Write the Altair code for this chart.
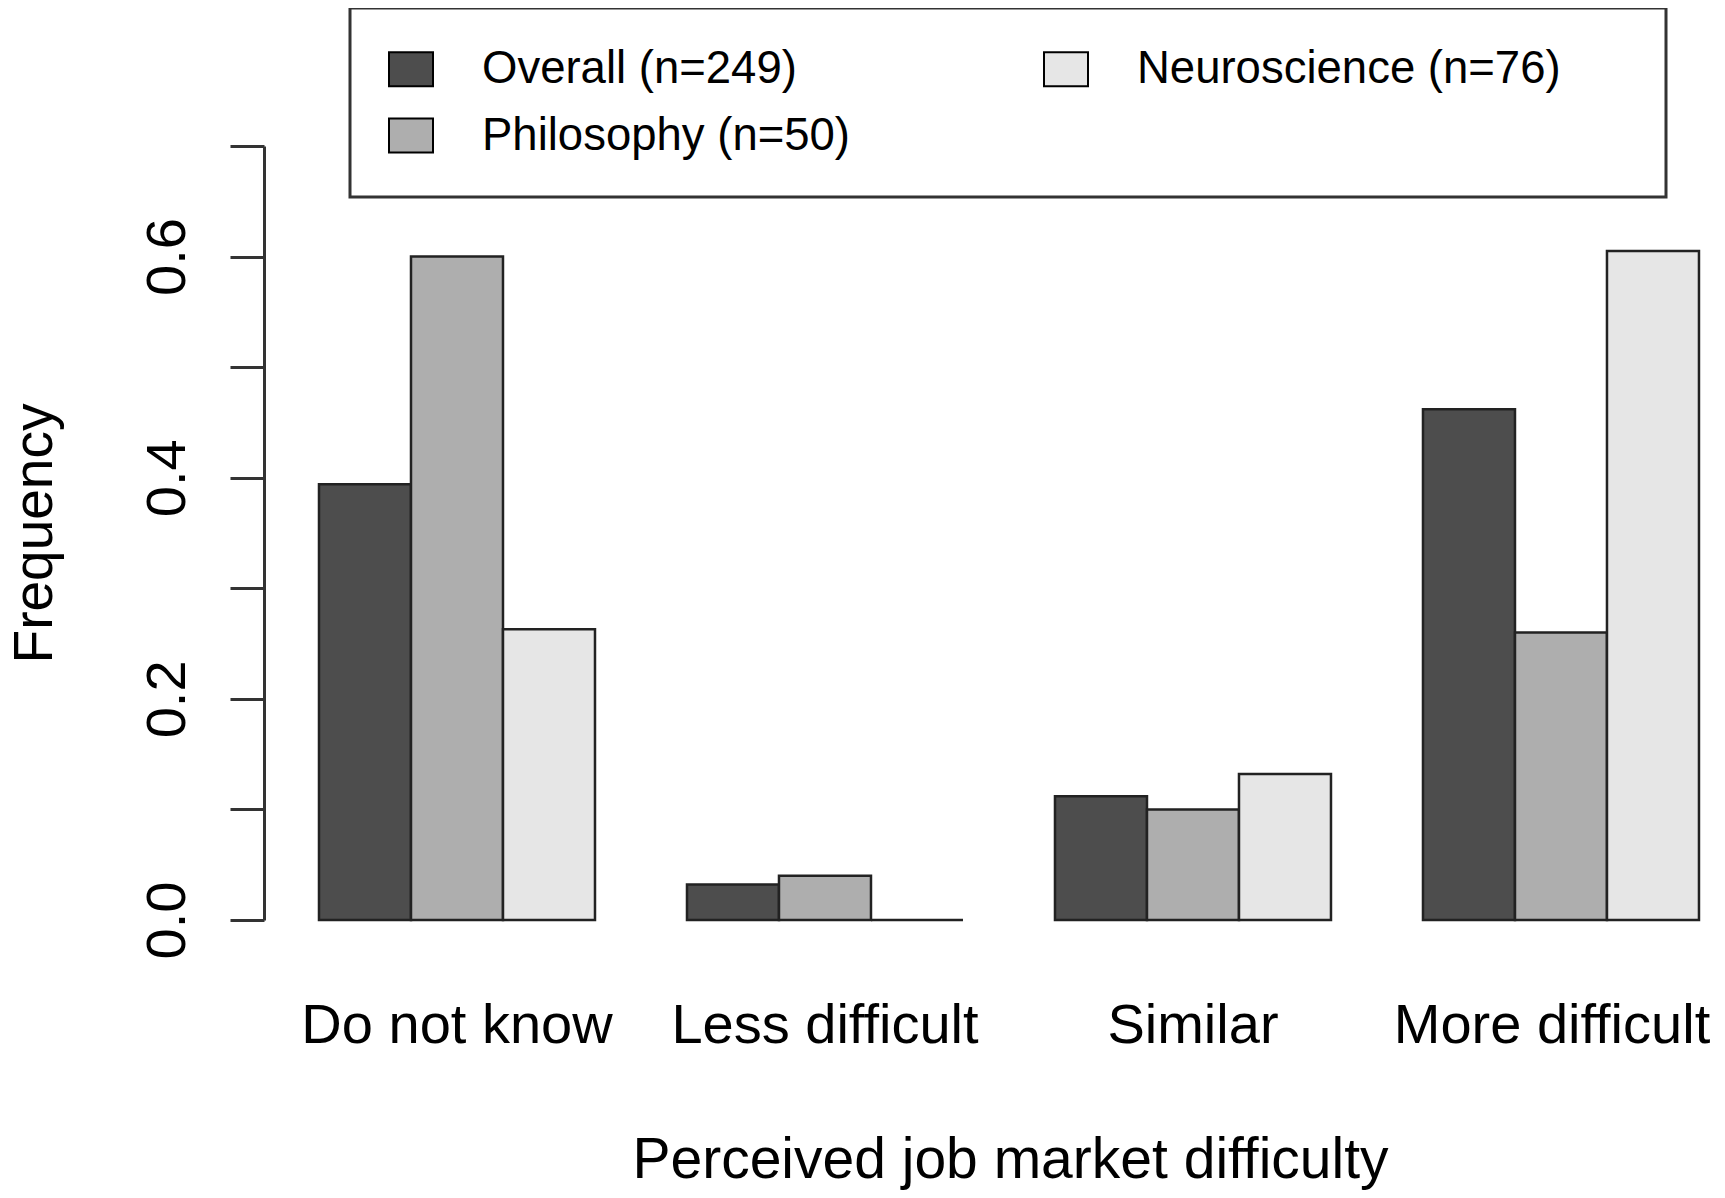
import altair as alt
import pandas as pd

categories = ["Do not know", "Less difficult", "Similar", "More difficult"]
groups = ["Overall (n=249)", "Philosophy (n=50)", "Neuroscience (n=76)"]
overall = [0.394, 0.032, 0.112, 0.462]
philosophy = [0.600, 0.040, 0.100, 0.260]
neuroscience = [0.263, 0.000, 0.132, 0.605]
colors = ["#4D4D4D", "#AEAEAE", "#E6E6E6"]
y_ticks = [0.0, 0.1, 0.2, 0.3, 0.4, 0.5, 0.6, 0.7]
y_tick_labels = ["0.0", "0.2", "0.4", "0.6"]

rows = []
for g, vals in zip(groups, [overall, philosophy, neuroscience]):
    for c, v in zip(categories, vals):
        rows.append({"category": c, "group": g, "freq": v})
df = pd.DataFrame(rows)

FONT = "Liberation Sans"

y_label_expr = (
    "indexof([" + ",".join(f"'{s}'" for s in y_tick_labels) + "], format(datum.value, '.1f')) >= 0"
    " ? format(datum.value, '.1f') : ''"
)

chart = (
    alt.Chart(df)
    .mark_bar(stroke="#222222", strokeWidth=2.5)
    .encode(
        x=alt.X(
            "category:N",
            sort=categories,
            title="Perceived job market difficulty",
            scale=alt.Scale(paddingInner=0.25, paddingOuter=0.0897, align=0.833),
            axis=alt.Axis(
                labelAngle=0,
                domain=False,
                ticks=False,
                tickSize=0,
                labelPadding=122,
                labelBaseline="alphabetic",
                labelLimit=1000,
                labelOffset={"condition": {"test": f"datum.value === '{categories[-1]}'", "value": -9}, "value": 0},
                labelFontSize=56,
                labelFont=FONT,
                labelColor="black",
                titleFontSize=57,
                titleFont=FONT,
                titleFontWeight="normal",
                titleColor="black",
                titleX=746,
                titleY=257,
                titleBaseline="alphabetic",
                titleAlign="center",
                titleLimit=2000,
            ),
        ),
        xOffset=alt.XOffset("group:N", sort=groups, scale=alt.Scale(paddingInner=0, paddingOuter=0)),
        y=alt.Y(
            "freq:Q",
            title="Frequency",
            scale=alt.Scale(domain=[0, 0.7], nice=False, zero=True),
            axis=alt.Axis(
                values=y_ticks,
                labelExpr=y_label_expr,
                labelAngle=270,
                labelAlign="center",
                labelBaseline="alphabetic",
                labelPadding=46,
                labelOverlap=False,
                labelFlush=False,
                tickSize=34,
                tickWidth=3,
                tickColor="#333333",
                domainColor="#333333",
                domainWidth=3,
                grid=False,
                labelFontSize=56,
                labelFont=FONT,
                labelColor="black",
                titleFontSize=55,
                titleFont=FONT,
                titleFontWeight="normal",
                titleColor="black",
                titleAngle=270,
                titleX=-213,
                titleY=387,
                titleBaseline="alphabetic",
                titleAlign="center",
                titleLimit=2000,
            ),
        ),
        fill=alt.Fill(
            "group:N",
            scale=alt.Scale(domain=groups, range=colors),
            legend=alt.Legend(
                title="\u00a0",
                titleOrient="right",
                titlePadding=67,
                titleFontSize=44,
                orient="none",
                legendX=86,
                legendY=-138,
                columns=2,
                columnPadding=189,
                rowPadding=19.5,
                padding=38,
                labelFontSize=45.5,
                labelFont=FONT,
                labelColor="black",
                labelLimit=2000,
                labelOffset=48,
                symbolType="M-1,-0.77H1V0.77H-1Z",
                symbolSize=1936,
                symbolStrokeColor="black",
                symbolStrokeWidth=2,
                strokeColor="#333333",
                fillColor="white",
            ),
        ),
    )
    .properties(
        width=1446,
        height=774,
        autosize=alt.AutoSizeParams(type="none"),
        padding={"left": 256, "top": 138, "right": 7, "bottom": 270},
        background="white",
    )
    .configure_view(strokeWidth=0)
    .configure_legend(strokeWidth=3)
)

chart.save("out.html", embed_options={"renderer": "svg", "actions": False})
